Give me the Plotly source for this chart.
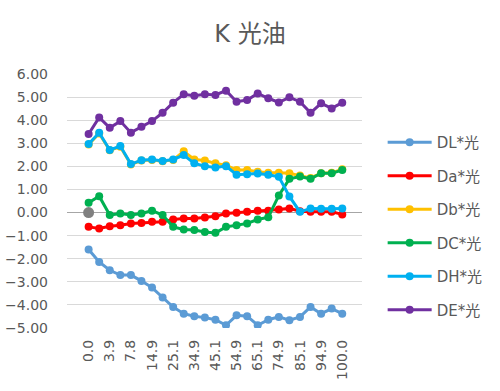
import plotly.graph_objects as go

categories = ["0.0", "2.0", "3.9", "5.9", "7.8", "10.2", "14.9", "20.0", "25.1", "29.8",
              "34.9", "40.0", "45.1", "49.8", "54.9", "60.0", "65.1", "69.8", "74.9", "80.0",
              "85.1", "89.8", "94.9", "98.0", "100.0"]
tick_labels = categories[::2]

DL = [-1.60, -2.14, -2.50, -2.71, -2.71, -2.96, -3.25, -3.68, -4.09, -4.38, -4.49, -4.55, -4.64,
      -4.88, -4.45, -4.49, -4.88, -4.64, -4.52, -4.66, -4.52, -4.09, -4.38, -4.16, -4.38]
Da = [-0.62, -0.69, -0.59, -0.55, -0.47, -0.45, -0.40, -0.40, -0.30, -0.26, -0.26, -0.21, -0.16,
      -0.04, -0.01, 0.03, 0.08, 0.08, 0.13, 0.18, 0.06, 0.03, 0.03, 0.03, -0.08]
Db = [2.95, 3.42, 2.70, 2.85, 2.08, 2.25, 2.28, 2.22, 2.28, 2.65, 2.30, 2.25, 2.13, 2.05, 1.84,
      1.84, 1.77, 1.72, 1.72, 1.70, 1.60, 1.50, 1.70, 1.72, 1.88]
DC = [0.42, 0.71, -0.11, -0.04, -0.11, -0.04, 0.08, -0.11, -0.62, -0.73, -0.76, -0.84, -0.88,
      -0.62, -0.55, -0.47, -0.30, -0.20, 0.74, 1.46, 1.56, 1.46, 1.70, 1.70, 1.84]
DH = [2.97, 3.46, 2.71, 2.88, 2.10, 2.27, 2.30, 2.23, 2.30, 2.49, 2.13, 2.01, 1.95, 2.01, 1.64,
      1.66, 1.69, 1.64, 1.55, 0.70, 0.03, 0.18, 0.16, 0.16, 0.18]
DE = [3.40, 4.12, 3.67, 3.96, 3.46, 3.72, 3.96, 4.32, 4.76, 5.12, 5.06, 5.12, 5.09, 5.28, 4.80,
      4.87, 5.16, 4.95, 4.77, 4.99, 4.80, 4.32, 4.73, 4.51, 4.76]
extra_point = [0.0]

series = [
    ("DL*光", DL, "#5B9BD5"),
    ("Da*光", Da, "#FF0000"),
    ("Db*光", Db, "#FFC000"),
    ("DC*光", DC, "#00B050"),
    ("DH*光", DH, "#00B0F0"),
    ("DE*光", DE, "#7030A0"),
]

fig = go.Figure()
fig.add_trace(go.Scatter(x=categories[:1], y=extra_point, mode="markers",
                         marker=dict(color="#808080", size=11), showlegend=False,
                         hoverinfo="skip"))
for i, (name, vals, col) in enumerate(series):
    fig.add_trace(go.Scatter(
        x=categories, y=vals, name=name, mode="lines+markers",
        line=dict(color=col, width=3),
        marker=dict(color=col, size=8),
        legendgroup=f"g{i}",
    ))

grey = "#595959"
fam = "DejaVu Sans, Noto Sans CJK SC"
fig.update_layout(
    width=500, height=391,
    margin=dict(l=67, r=138, t=74, b=63),
    paper_bgcolor="white", plot_bgcolor="white",
    font=dict(family=fam, color=grey, size=13),
    title=dict(text="K 光油", x=0.5, xanchor="center", y=1 - 34 / 391, yanchor="middle",
               xref="container", yref="container",
               font=dict(family=fam, size=24, color=grey)),
    legend=dict(x=1.07, xanchor="left", y=0.4016, yanchor="middle",
                font=dict(family=fam, size=15, color=grey),
                tracegroupgap=11, itemwidth=44, bgcolor="rgba(0,0,0,0)"),
    showlegend=True,
)
fig.update_xaxes(
    type="category", tickmode="array", tickvals=tick_labels, ticktext=tick_labels,
    tickangle=-90, showgrid=False, showline=False, zeroline=False, automargin=False,
    ticklabelstandoff=8, tickfont=dict(size=14, color=grey),
)
fig.update_yaxes(
    range=[-5, 6], dtick=1, tickformat=".2f", showgrid=True, gridcolor="#D9D9D9",
    gridwidth=1, zeroline=True, zerolinecolor="#A6A6A6", zerolinewidth=1, automargin=False,
    showline=False, ticklabelstandoff=18, tickfont=dict(size=14, color=grey),
)
fig.write_html("out.html", config={"displayModeBar": False},
               post_script="document.body.style.margin='0';document.body.style.padding='0';")
